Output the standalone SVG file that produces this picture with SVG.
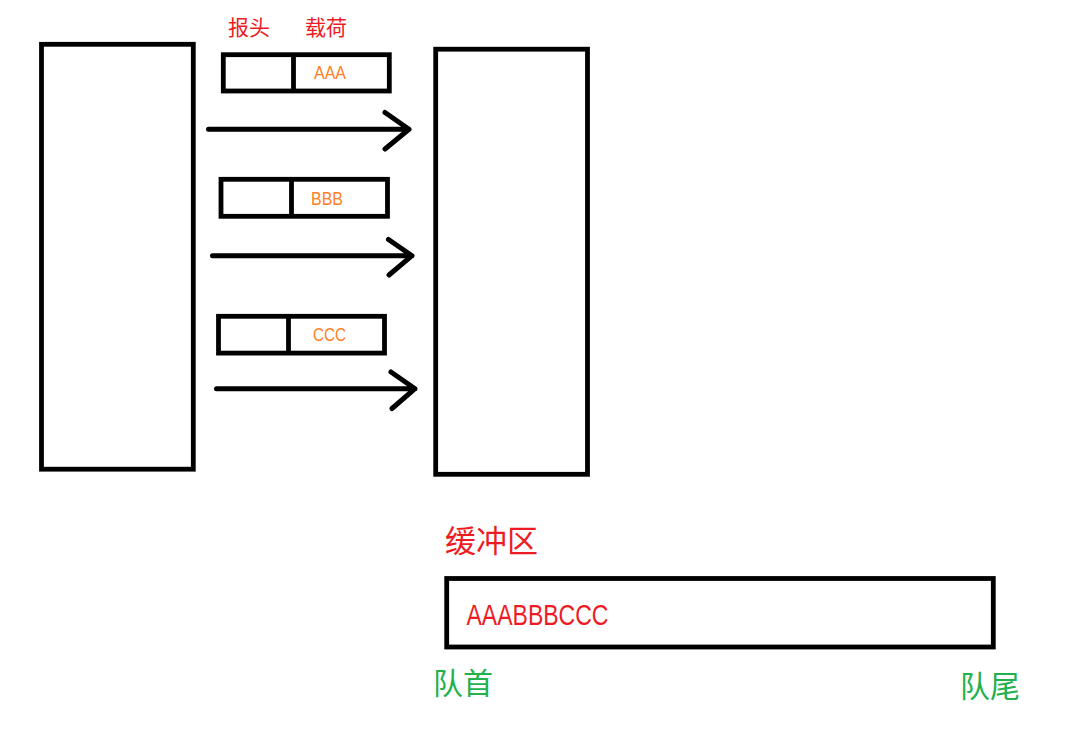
<svg xmlns="http://www.w3.org/2000/svg" width="1071" height="736" viewBox="0 0 1071 736">
<style>
.box{fill:#fff;stroke:#000;stroke-width:4.8}
.div{stroke:#000;stroke-width:4.8}
.arr{fill:none;stroke:#000;stroke-width:5;stroke-linecap:round;stroke-linejoin:round}
.cjk{font-family:"Noto Sans CJK SC","Noto Sans",sans-serif}
.lat{font-family:"Liberation Sans","Noto Sans",sans-serif}
.red{fill:#ed1c24}
.org{fill:#ff7f27}
.grn{fill:#22b14c}
</style>
<rect width="1071" height="736" fill="#fff"/>
<g id="sender"><rect class="box" x="41.5" y="44.3" width="151.8" height="424.9"/></g>
<g id="receiver"><rect class="box" x="435.7" y="49.2" width="151.8" height="425.1"/></g>
<g id="labels">
<text class="cjk red" x="228" y="35" font-size="21">报头</text>
<text class="cjk red" x="305" y="35" font-size="21">载荷</text>
</g>
<g id="packet1">
<rect class="box" x="223.3" y="54.7" width="166" height="36.3"/>
<line class="div" x1="293.5" y1="54.7" x2="293.5" y2="91"/>
<text class="lat org" x="314" y="79" font-size="19" textLength="32" lengthAdjust="spacingAndGlyphs">AAA</text>
</g>
<g id="packet2">
<rect class="box" x="221" y="179.3" width="166.5" height="37"/>
<line class="div" x1="291.5" y1="179.3" x2="291.5" y2="216.3"/>
<text class="lat org" x="311" y="205" font-size="18.5" textLength="32" lengthAdjust="spacingAndGlyphs">BBB</text>
</g>
<g id="packet3">
<rect class="box" x="218.5" y="316.3" width="166" height="36.8"/>
<line class="div" x1="288.5" y1="316.3" x2="288.5" y2="353.1"/>
<text class="lat org" x="313" y="341" font-size="18.5" textLength="33" lengthAdjust="spacingAndGlyphs">CCC</text>
</g>
<g id="connectors">
<path class="arr" d="M208.5 129.3H409M385 112.5L409 129.3L385 149"/>
<path class="arr" d="M212.5 255.7H412M388.5 239.5L412 255.7L389 275"/>
<path class="arr" d="M216.5 388.7H415M391 372L415 388.7L392 408.5"/>
</g>
<g id="buffer">
<text class="cjk red" x="445" y="552" font-size="31">缓冲区</text>
<rect class="box" x="446.7" y="578.5" width="546.6" height="68.5"/>
<text class="lat red" x="466.5" y="625" font-size="30" textLength="142" lengthAdjust="spacingAndGlyphs">AAABBBCCC</text>
<text class="cjk grn" x="433" y="694" font-size="30">队首</text>
<text class="cjk grn" x="960" y="697" font-size="30">队尾</text>
</g>
</svg>
